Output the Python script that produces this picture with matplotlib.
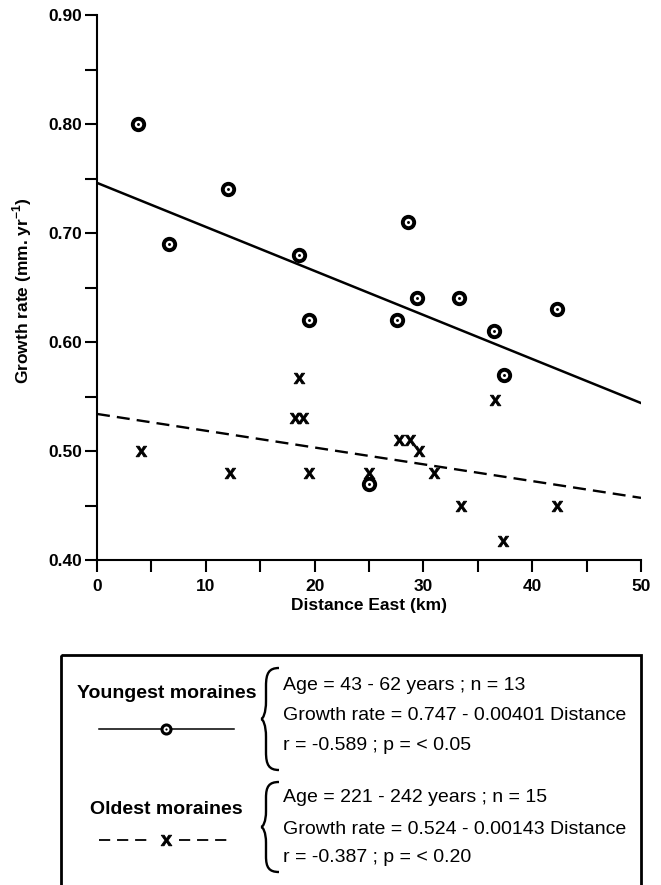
import matplotlib
matplotlib.use("Agg")
import matplotlib.pyplot as plt
from matplotlib.path import Path
from matplotlib.patches import PathPatch, Rectangle

plt.rcParams['font.family'] = ['Liberation Sans', 'DejaVu Sans']
plt.rcParams['mathtext.fontset'] = 'custom'
plt.rcParams['mathtext.rm'] = 'Liberation Sans'
plt.rcParams['mathtext.bf'] = 'Liberation Sans:bold'

# youngest moraines (circles)
young_dist = [3.8, 6.6, 12.0, 18.6, 19.5, 25.0, 27.6, 28.6, 29.4, 33.3, 36.5, 37.4, 42.3]
young_rate = [0.80, 0.69, 0.74, 0.68, 0.62, 0.47, 0.62, 0.71, 0.64, 0.64, 0.61, 0.57, 0.63]

# oldest moraines (crosses)
old_dist = [4.0, 12.2, 18.2, 18.6, 18.9, 19.5, 25.0, 27.8, 28.8, 29.6, 31.0, 33.5, 36.6, 37.3, 42.3]
old_rate = [0.50, 0.48, 0.53, 0.567, 0.53, 0.48, 0.48, 0.51, 0.51, 0.50, 0.48, 0.45, 0.547, 0.417, 0.45]

# regression lines as drawn
fit_dist = [0, 50]
young_fit = [0.746, 0.544]
old_fit = [0.534, 0.457]

xticks = [0, 10, 20, 30, 40, 50]
yticks = [0.40, 0.50, 0.60, 0.70, 0.80, 0.90]

young_label = "Youngest moraines"
old_label = "Oldest moraines"
young_lines = ["Age = 43 - 62 years ; n = 13",
               "Growth rate = 0.747 - 0.00401 Distance",
               "r = -0.589 ; p = < 0.05"]
old_lines = ["Age = 221 - 242 years ; n = 15",
             "Growth rate = 0.524 - 0.00143 Distance",
             "r = -0.387 ; p = < 0.20"]

XMARK = r'$\mathbf{x}$'

W, H = 661, 885
fig = plt.figure(figsize=(W / 100, H / 100), dpi=100)
ax = fig.add_axes([97 / W, 1 - 560 / H, 544 / W, 545 / H])

ax.plot(fit_dist, young_fit, color='black', lw=1.8, zorder=2)
ax.plot(fit_dist, old_fit, color='black', lw=1.7, ls=(0, (5.5, 3.0)), zorder=2)

ax.plot(old_dist, old_rate, ls='none', marker=XMARK, ms=7.8, mew=0.6, color='black', zorder=3)
ax.plot(young_dist, young_rate, ls='none', marker='o', ms=8.2, mew=2.8,
        mfc='white', mec='black', zorder=4)
ax.plot(young_dist, young_rate, ls='none', marker='o', ms=2.1, mew=0,
        color='black', zorder=5)

ax.set_xlim(0, 50)
ax.set_ylim(0.40, 0.90)
ax.set_xticks(xticks)
ax.set_xticks([5, 15, 25, 35, 45], minor=True)
ax.set_yticks(yticks)
ax.set_yticks([0.45, 0.55, 0.65, 0.75, 0.85], minor=True)
ax.set_yticklabels([f"{v:.2f}" for v in yticks])
ax.tick_params(which='both', direction='out', length=8.6, width=1.5, color='black')
ax.tick_params(axis='y', pad=2)
ax.tick_params(axis='x', pad=5)
for lab in ax.get_xticklabels() + ax.get_yticklabels():
    lab.set_fontsize(12.5)
    lab.set_fontweight('bold')

for side in ['top', 'right']:
    ax.spines[side].set_visible(False)
for side in ['left', 'bottom']:
    ax.spines[side].set_linewidth(1.5)

ax.set_xlabel("Distance East (km)", fontsize=12.5, fontweight='bold')
ax.set_ylabel(r"Growth rate (mm. yr$^{\mathbf{-1}}$)", fontsize=12.5, fontweight='bold')
ax.xaxis.set_label_coords(0.5, -0.07)
ax.yaxis.set_label_coords(-0.115, 0.494)

# legend panel drawn in pixel coordinates
lg = fig.add_axes([0, 0, 1, 1], zorder=-1)
lg.set_xlim(0, W)
lg.set_ylim(H, 0)
lg.axis('off')

lg.add_patch(Rectangle((61, 655), 580, 260, fill=False, lw=2, ec='black', clip_on=False))


def brace(y_top, y_bot, x_tip=261, x_body=266, x_end=279):
    ym = (y_top + y_bot) / 2
    h = ym - y_top
    verts = [(x_end, y_top),
             (x_body + 3, y_top), (x_body, y_top + 0.1 * h), (x_body, y_top + 0.35 * h),
             (x_body, ym - 0.35 * h),
             (x_body, ym - 0.12 * h), (x_tip + 2, ym), (x_tip, ym),
             (x_tip + 2, ym), (x_body, ym + 0.12 * h), (x_body, ym + 0.35 * h),
             (x_body, y_bot - 0.35 * h),
             (x_body, y_bot - 0.1 * h), (x_body + 3, y_bot), (x_end, y_bot)]
    codes = [Path.MOVETO,
             Path.CURVE4, Path.CURVE4, Path.CURVE4,
             Path.LINETO,
             Path.CURVE4, Path.CURVE4, Path.CURVE4,
             Path.CURVE4, Path.CURVE4, Path.CURVE4,
             Path.LINETO,
             Path.CURVE4, Path.CURVE4, Path.CURVE4]
    lg.add_patch(PathPatch(Path(verts, codes), fill=False, lw=1.7, ec='black'))


lg.text(167, 693, young_label, fontsize=14, fontweight='bold', ha='center', va='center')
lg.plot([99, 234], [729, 729], color='black', lw=1.1)
lg.plot([165.5], [729], marker='o', ms=6.5, mew=2.2, mfc='white', mec='black')
lg.plot([165.5], [729], marker='o', ms=1.6, mew=0, color='black')
brace(668, 770)
for y, s in zip([686, 716, 746], young_lines):
    lg.text(283, y, s, fontsize=14, ha='left', va='center')

lg.text(166, 809, old_label, fontsize=14, fontweight='bold', ha='center', va='center')
lg.plot([99, 150], [840, 840], color='black', lw=1.3, ls=(0, (6.2, 3.8)))
lg.plot([179, 228], [840, 840], color='black', lw=1.3, ls=(0, (6.2, 3.8)))
lg.plot([166], [840], marker=XMARK, ms=7.8, mew=0.6, color='black')
brace(782, 872)
for y, s in zip([798, 829, 858], old_lines):
    lg.text(283, y, s, fontsize=14, ha='left', va='center')

fig.savefig("out.png", dpi=100, facecolor='white')
